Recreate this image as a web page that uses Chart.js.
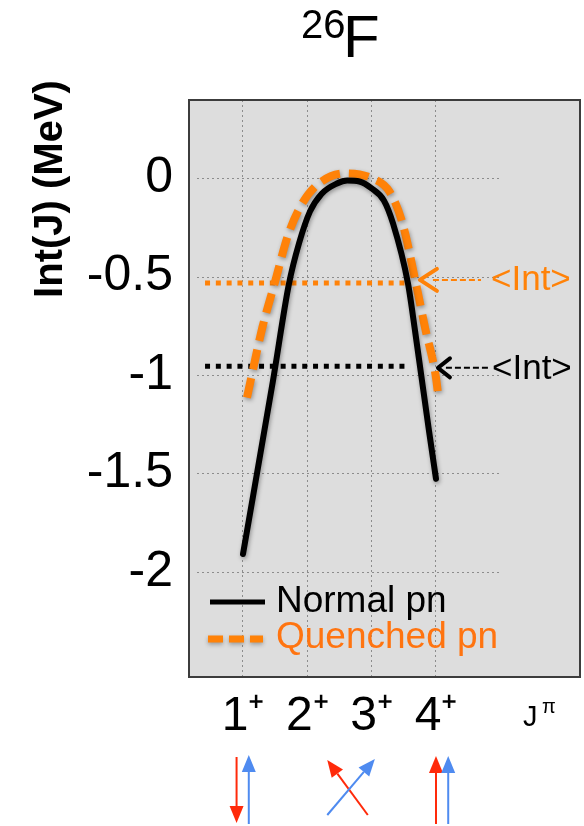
<!DOCTYPE html>
<html><head><meta charset="utf-8">
<script src="https://cdn.jsdelivr.net/npm/chart.js@4.4.1/dist/chart.umd.min.js"></script>
<style>html,body{margin:0;padding:0;background:#fff;} #wrap{width:584px;height:826px;position:relative;}</style>
</head><body><div id="wrap"><canvas id="c" width="584" height="826"></canvas></div>
<script>
// ---------- data ----------
const titleMass = '26';
const titleElement = 'F';
const yAxisTitle = 'Int(J) (MeV)';
const xAxisTitle = 'J';
const xAxisTitleSup = 'π';
const jValues = [1, 2, 3, 4];
const jLabels = ['1⁺', '2⁺', '3⁺', '4⁺'];
const yTicks = [0, -0.5, -1, -1.5, -2];
const seriesNames = ['Normal pn', 'Quenched pn'];
const normalJ   = [1.000, 1.466, 1.715, 1.870, 2.040, 2.220, 2.460, 2.620, 2.810, 3.000, 3.190, 3.332, 3.565, 3.674, 3.767, 3.891, 4.000];
const normalInt = [-1.909, -1.029, -0.536, -0.332, -0.170, -0.080, -0.027, -0.012, -0.017, -0.052, -0.113, -0.230, -0.536, -0.775, -0.993, -1.283, -1.527];
const quenchedJ   = [1.062, 1.300, 1.490, 1.700, 1.900, 2.150, 2.580, 3.000, 3.280, 3.480, 3.689, 3.830, 4.000, 4.031];
const quenchedInt = [-1.115, -0.760, -0.536, -0.290, -0.140, -0.035, 0.024, 0.000, -0.070, -0.230, -0.536, -0.760, -1.013, -1.095];
const avgLabel = '<Int>';
const avgNormal = -0.956;
const avgQuenched = -0.532;
const avgSpanJ = [0.41, 3.6];

// ---------- style ----------
const BLACK = '#000000';
const ORANGE = '#ff8208';
const ORANGE_TXT = '#ff7410';
const RED = '#ff2a0a';
const BLUE = '#4f8bf0';
const FONT = '"Liberation Sans", Arial, Helvetica, sans-serif';

const pts = (xs, ys) => xs.map((x, i) => ({x: x, y: ys[i]}));

function arrowLine(ctx, x1, y1, x2, y2, color) {
  const ang = Math.atan2(y2 - y1, x2 - x1);
  const hl = 17, hw = 7;
  const bx = x2 - hl * Math.cos(ang), by = y2 - hl * Math.sin(ang);
  ctx.strokeStyle = color; ctx.fillStyle = color; ctx.lineWidth = 2; ctx.setLineDash([]);
  ctx.beginPath(); ctx.moveTo(x1, y1); ctx.lineTo(bx, by); ctx.stroke();
  ctx.beginPath();
  ctx.moveTo(x2, y2);
  ctx.lineTo(bx + hw * Math.sin(ang), by - hw * Math.cos(ang));
  ctx.lineTo(bx - hw * Math.sin(ang), by + hw * Math.cos(ang));
  ctx.closePath(); ctx.fill();
}

const decor = {
  id: 'decor',
  beforeDraw(chart) {
    const {ctx, chartArea: a} = chart;
    ctx.save();
    ctx.fillStyle = '#dddddd';
    ctx.fillRect(a.left, a.top, a.right - a.left, a.bottom - a.top);
    ctx.restore();
  },
  beforeDatasetsDraw(chart) {
    const {ctx} = chart;
    const xs = chart.scales.x, ys = chart.scales.y;
    ctx.save();
    ctx.strokeStyle = '#8c8c8c'; ctx.lineWidth = 1; ctx.setLineDash([2, 3]);
    const x0 = xs.getPixelForValue(0.285), x1 = xs.getPixelForValue(4.995);
    ys.ticks.forEach(t => {
      const y = Math.round(ys.getPixelForValue(t.value)) + 0.5;
      ctx.beginPath(); ctx.moveTo(x0, y); ctx.lineTo(x1, y); ctx.stroke();
    });
    ctx.restore();
  },
  beforeDatasetDraw(chart, args) {
    const ctx = chart.ctx;
    ctx.save();
    if (args.index < 2) {
      ctx.shadowColor = 'rgba(0,0,0,0.35)';
      ctx.shadowBlur = 4; ctx.shadowOffsetX = 1; ctx.shadowOffsetY = 2;
    }
  },
  afterDatasetDraw(chart) { chart.ctx.restore(); },
  afterDraw(chart) {
    const {ctx, chartArea: a} = chart;
    const xs = chart.scales.x, ys = chart.scales.y;
    ctx.save();
    // frame
    ctx.strokeStyle = '#3c3c3c'; ctx.lineWidth = 2; ctx.setLineDash([]);
    ctx.strokeRect(a.left, a.top, a.right - a.left, a.bottom - a.top);

    // title
    ctx.fillStyle = '#000'; ctx.textBaseline = 'alphabetic'; ctx.textAlign = 'left';
    ctx.font = '40px ' + FONT; ctx.fillText(titleMass, 301, 38);
    ctx.font = '60px ' + FONT; ctx.fillText(titleElement, 343, 57);

    // y title
    ctx.save();
    ctx.translate(62, 189); ctx.rotate(-Math.PI / 2);
    ctx.font = 'bold 40px ' + FONT; ctx.textAlign = 'center';
    ctx.fillText(yAxisTitle, 0, 0);
    ctx.restore();

    // x title J^pi
    ctx.font = '29px ' + FONT; ctx.textAlign = 'left';
    ctx.fillText(xAxisTitle, 523, 726);
    ctx.font = '20px ' + FONT; ctx.fillText(xAxisTitleSup, 542, 713);

    // legend
    ctx.lineWidth = 5; ctx.strokeStyle = BLACK; ctx.setLineDash([]);
    ctx.beginPath(); ctx.moveTo(210, 602); ctx.lineTo(265, 602); ctx.stroke();
    ctx.save();
    ctx.shadowColor = 'rgba(0,0,0,0.3)'; ctx.shadowBlur = 4; ctx.shadowOffsetY = 2;
    ctx.lineWidth = 7; ctx.strokeStyle = ORANGE; ctx.setLineDash([15, 6]);
    ctx.beginPath(); ctx.moveTo(208, 639); ctx.lineTo(263, 639); ctx.stroke();
    ctx.restore();
    ctx.setLineDash([]);
    ctx.font = '37px ' + FONT;
    ctx.fillStyle = BLACK; ctx.fillText(seriesNames[0], 276, 612);
    ctx.fillStyle = ORANGE_TXT; ctx.fillText(seriesNames[1], 276, 648);

    // <Int> pointers
    const pointer = (yv, tipJ, color, dy, armDx, armDy, endX, txtX, txtDy) => {
      const y = ys.getPixelForValue(yv) + dy;
      const tx = xs.getPixelForValue(tipJ);
      ctx.strokeStyle = color; ctx.fillStyle = color;
      ctx.lineWidth = 2; ctx.setLineDash([6, 3]);
      ctx.beginPath(); ctx.moveTo(tx + armDx - 4, y); ctx.lineTo(endX, y); ctx.stroke();
      ctx.setLineDash([]); ctx.lineWidth = 4; ctx.lineCap = 'round'; ctx.lineJoin = 'round';
      ctx.beginPath(); ctx.moveTo(tx + armDx, y - armDy); ctx.lineTo(tx, y); ctx.lineTo(tx + armDx, y + armDy); ctx.stroke();
      ctx.lineCap = 'butt';
      ctx.font = '35px ' + FONT; ctx.fillText(avgLabel, txtX, y + txtDy);
    };
    pointer(avgQuenched, 3.75, ORANGE, -3, 17, 11, 481, 491, 10);
    pointer(avgNormal, 4.03, BLACK, 1.5, 12, 9.5, 490, 492, 11);

    // spin arrows below the J labels
    const px = v => xs.getPixelForValue(v);
    arrowLine(ctx, px(0.90), 757, px(0.90), 823, RED);
    arrowLine(ctx, px(1.09), 824, px(1.09), 755, BLUE);
    arrowLine(ctx, px(2.94), 815, px(2.31), 760, RED);
    arrowLine(ctx, px(2.31), 815, px(3.05), 759, BLUE);
    arrowLine(ctx, px(4.00), 824, px(4.00), 756, RED);
    arrowLine(ctx, px(4.19), 824, px(4.19), 756, BLUE);
    ctx.restore();
  }
};

new Chart(document.getElementById('c'), {
  type: 'line',
  data: {
    datasets: [
      {label: seriesNames[0], data: pts(normalJ, normalInt), borderColor: BLACK, borderWidth: 6,
       pointRadius: 0, cubicInterpolationMode: 'monotone', borderCapStyle: 'round', fill: false},
      {label: seriesNames[1], data: pts(quenchedJ, quenchedInt), borderColor: ORANGE, borderWidth: 8,
       borderDash: [20, 9], pointRadius: 0, cubicInterpolationMode: 'monotone', fill: false},
      {label: 'avg normal', data: pts(avgSpanJ, [avgNormal, avgNormal]), borderColor: BLACK, borderWidth: 5,
       borderDash: [5, 5.8], pointRadius: 0, fill: false},
      {label: 'avg quenched', data: pts(avgSpanJ, [avgQuenched, avgQuenched]), borderColor: ORANGE, borderWidth: 5,
       borderDash: [5, 5.8], pointRadius: 0, fill: false}
    ]
  },
  options: {
    responsive: false, animation: false, devicePixelRatio: 1,
    layout: {padding: {top: 100, right: 4, left: 0, bottom: 0}},
    plugins: {legend: {display: false}, tooltip: {enabled: false}, title: {display: false}},
    scales: {
      x: {
        type: 'linear', min: 0.1606, max: 6.2385,
        afterBuildTicks: s => { s.ticks = jValues.map(v => ({value: v})); },
        afterFit: s => { s.height = 149; },
        grid: {display: true, color: '#8c8c8c', lineWidth: 1, drawTicks: false},
        border: {display: false, dash: [2, 3]},
        ticks: {
          autoSkip: false, maxRotation: 0, padding: 11, color: '#000',
          font: {family: FONT, size: 48},
          callback: (v, i) => jLabels[i]
        }
      },
      y: {
        type: 'linear', min: -2.534, max: 0.397,
        afterBuildTicks: s => { s.ticks = yTicks.map(v => ({value: v})); },
        afterFit: s => { s.width = 189; },
        grid: {display: false, drawTicks: false},
        border: {display: false},
        ticks: {
          padding: 16, color: '#000',
          font: {family: FONT, size: 50},
          callback: v => String(v)
        }
      }
    }
  },
  plugins: [decor]
});
</script>
</body></html>
